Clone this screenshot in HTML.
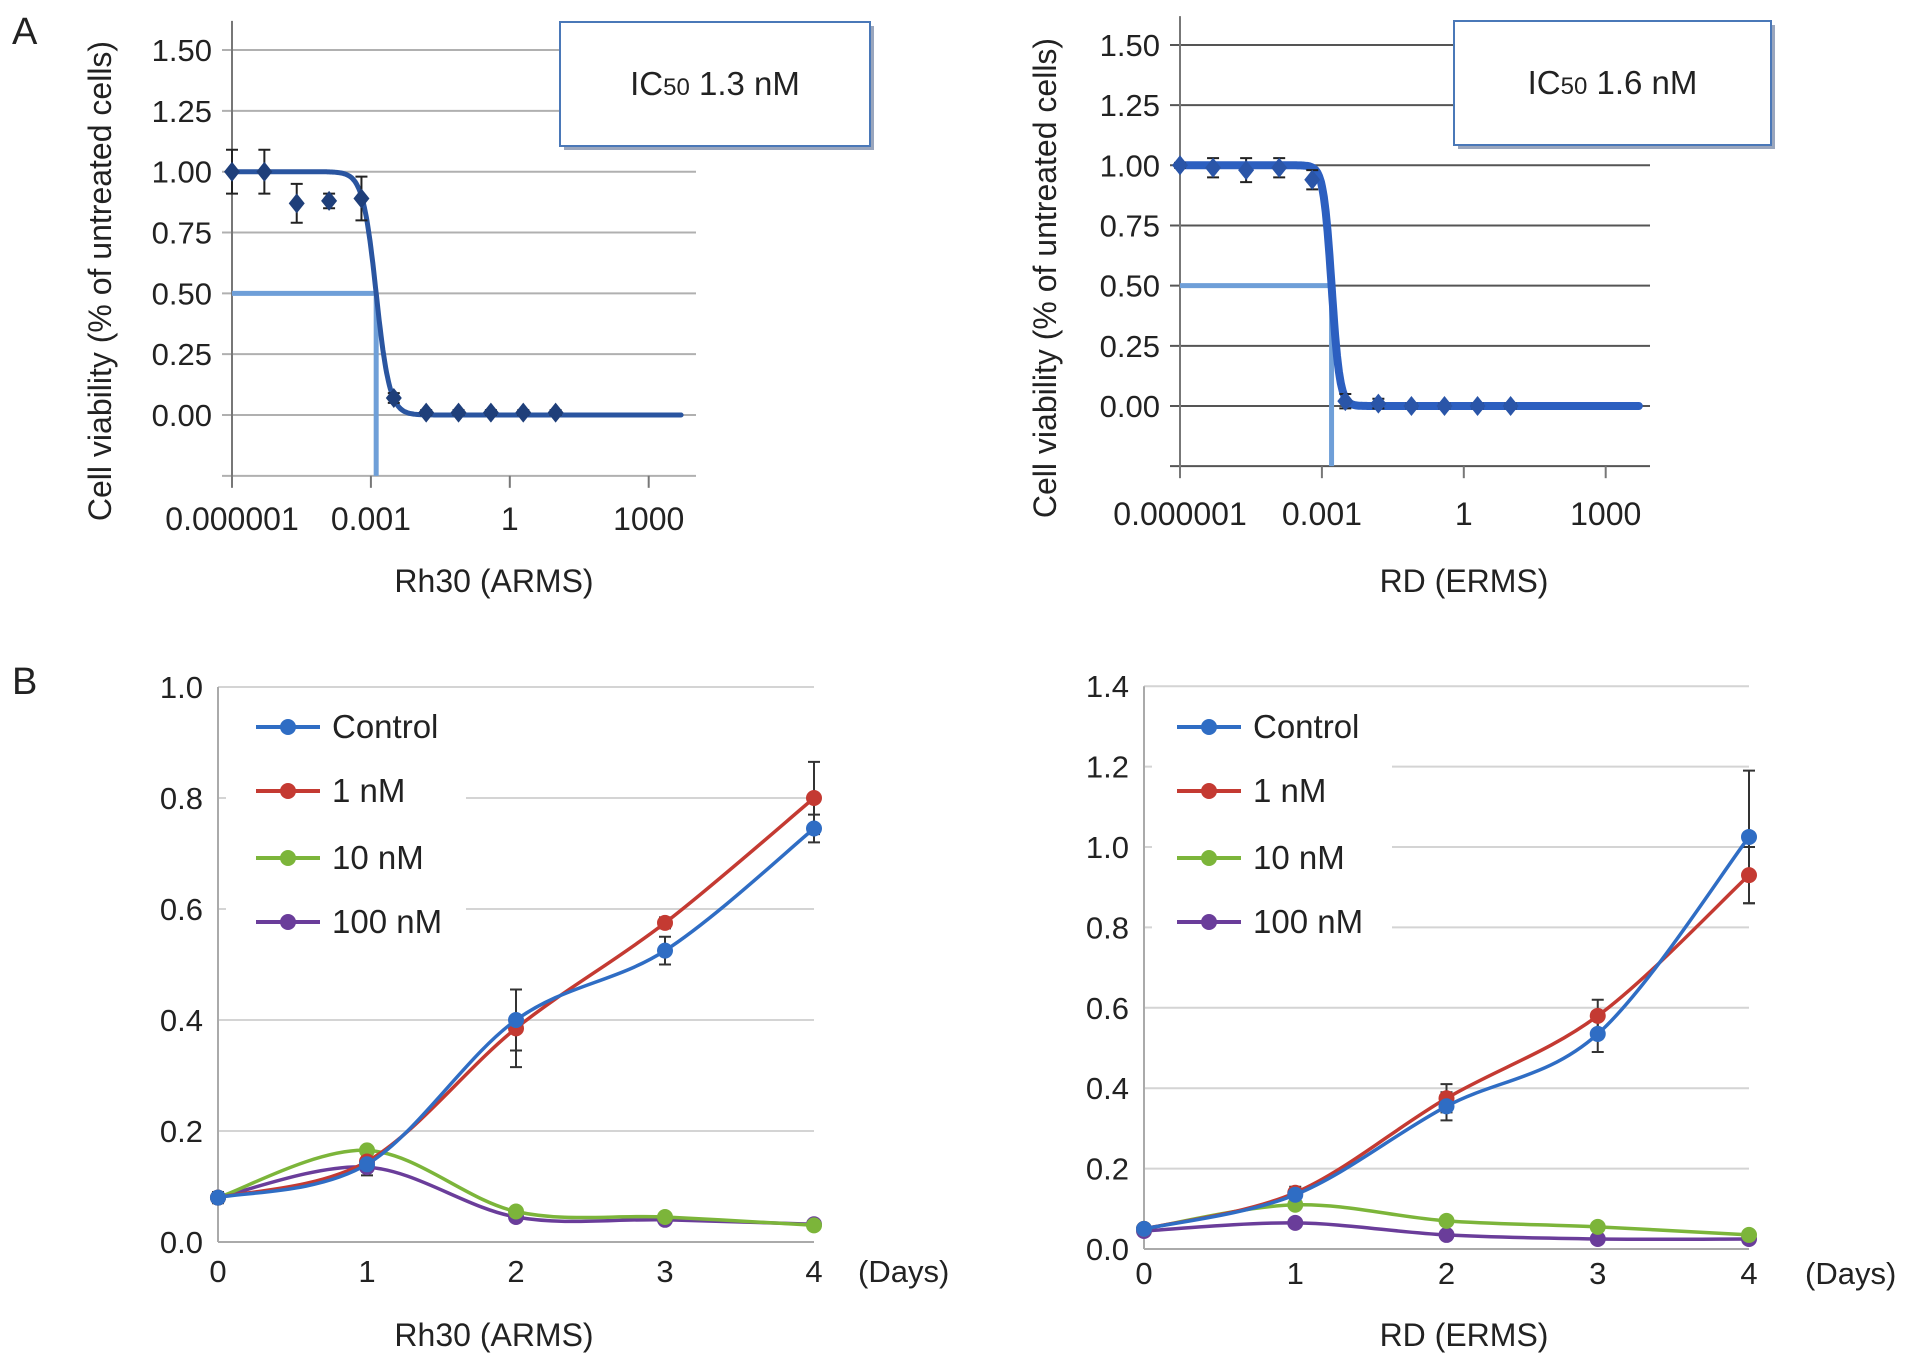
<!DOCTYPE html>
<html><head><meta charset="utf-8"><style>
html,body{margin:0;padding:0;background:#fff;}
svg{display:block;font-family:"Liberation Sans",Arial,sans-serif;}
</style></head><body>
<svg id="fig" width="1913" height="1365" viewBox="0 0 1913 1365">
<text x="12" y="44" font-size="38" fill="#222">A</text>
<text x="12" y="694" font-size="38" fill="#222">B</text>
</svg>
<script>
// ---- Panel A data (concentration in µM, factor 5 dilutions) ----
const aConcExp = [0,1,2,3,4,5,6,7,8,9,10];
const aTickLabels = ["0.000001","0.001","1","1000"];
const aYTicks = [0,0.25,0.5,0.75,1.0,1.25,1.5];
const aYTickLabels = ["0.00","0.25","0.50","0.75","1.00","1.25","1.50"];
const rh30Viab = [1.00,1.00,0.87,0.88,0.89,0.07,0.01,0.01,0.01,0.01,0.01];
const rh30Err = [0.09,0.09,0.08,0.03,0.09,0.02,0.01,0.01,0.01,0.01,0.01];
const rdViab = [1.00,0.99,0.98,0.99,0.94,0.02,0.01,0.00,0.00,0.00,0.00];
const rdErr = [0.01,0.04,0.05,0.04,0.04,0.03,0.02,0.01,0.01,0.01,0.01];
const rh30IC50 = 0.0013, rdIC50 = 0.0016;
// ---- Panel B data ----
const days = [0,1,2,3,4];
const seriesNames = ["Control","1 nM","10 nM","100 nM"];
const rh30Control = [0.08,0.14,0.40,0.525,0.745];
const rh30Control_err = [0.01,0.02,0.055,0.025,0.025];
const rh30_1nM = [0.08,0.145,0.385,0.575,0.80];
const rh30_1nM_err = [0.01,0.01,0.07,0.01,0.065];
const rh30_10nM = [0.08,0.165,0.055,0.045,0.03];
const rh30_100nM = [0.08,0.135,0.045,0.04,0.032];
const rdControl = [0.05,0.135,0.355,0.535,1.025];
const rdControl_err = [0.01,0.02,0.035,0.045,0.165];
const rd_1nM = [0.05,0.14,0.375,0.58,0.93];
const rd_1nM_err = [0.01,0.01,0.035,0.04,0.07];
const rd_10nM = [0.05,0.11,0.07,0.055,0.035];
const rd_100nM = [0.045,0.065,0.035,0.025,0.025];
const bYTicksL = [0,0.2,0.4,0.6,0.8,1.0];
const bYTicksR = [0,0.2,0.4,0.6,0.8,1.0,1.2,1.4];

const NS="http://www.w3.org/2000/svg";
const svg=document.getElementById('fig');
function mk(tag,attrs,parent){const e=document.createElementNS(NS,tag);for(const k in attrs)e.setAttribute(k,attrs[k]);(parent||svg).appendChild(e);return e;}
function txt(s,x,y,size,anchor,parent){const t=mk('text',{x:x,y:y,'font-size':size,'text-anchor':anchor||'start',fill:'#222'},parent);t.textContent=s;return t;}

function doseResponse(cfg){
  const g=mk('g',{});
  
  
  const xs=lg=>cfg.x0+(lg+6)*cfg.dec;
  const ys=v=>cfg.y0-v*cfg.yPer;
  const xR=cfg.xR;
  aYTicks.concat([-0.25]).forEach(v=>{
    const l=mk('line',{x1:cfg.x0-10,x2:xR,y1:ys(v),y2:ys(v),stroke:cfg.grid,'stroke-width':2},g);
    
    
  });
  aYTicks.forEach((v,i)=>{const t=txt(aYTickLabels[i],cfg.x0-20,ys(v)+11,31,'end',g);
    });
  const ax=mk('line',{x1:cfg.x0,x2:cfg.x0,y1:ys(1.62),y2:ys(-0.27),stroke:'#777','stroke-width':2},g);
  
  [-6,-3,0,3].forEach((lgv,i)=>{
    mk('line',{x1:xs(lgv),x2:xs(lgv),y1:ys(-0.25),y2:ys(-0.25)+12,stroke:'#777','stroke-width':2},g);
    const t=txt(aTickLabels[i],xs(lgv),cfg.tickY,32,'middle',g);
    
  });
  const lic=Math.log10(cfg.ic50);
  const h=mk('line',{x1:cfg.x0,x2:xs(lic),y1:ys(0.5),y2:ys(0.5),stroke:'#6f9fd8','stroke-width':5},g);
  
  const v=mk('line',{x1:xs(lic),x2:xs(lic),y1:ys(0.5),y2:ys(-0.25),stroke:'#6f9fd8','stroke-width':5},g);
  
  let d='';
  for(let lgv=-6;lgv<=cfg.endLog;lgv+=0.02){
    const c=Math.pow(10,lgv);const y=1/(1+Math.pow(c/cfg.ic50,cfg.hill));
    d+=(d?'L':'M')+xs(lgv).toFixed(1)+','+ys(y).toFixed(1);
  }
  const p=mk('path',{d:d,fill:'none',stroke:cfg.curve,'stroke-width':cfg.cw,'stroke-linecap':'round'},g);
  
  cfg.vals.forEach((val,i)=>{
    const lgv=-6+aConcExp[i]*Math.log10(5);
    const x=xs(lgv),y=ys(val),e=cfg.err[i]*cfg.yPer;
    const eb=mk('path',{d:`M${x},${y-e}V${y+e}M${x-6},${y-e}h12M${x-6},${y+e}h12`,stroke:'#222','stroke-width':2,fill:'none'},g);
    
    const m=mk('path',{d:`M${x},${y-10}L${x+8},${y}L${x},${y+10}L${x-8},${y}Z`,fill:cfg.marker},g);
    
  });
  mk('rect',{x:cfg.box[0]+4,y:cfg.box[1]+4,width:cfg.box[2],height:cfg.box[3],fill:'#9aa6bd'},g);
  const b=mk('rect',{x:cfg.box[0],y:cfg.box[1],width:cfg.box[2],height:cfg.box[3],fill:'#fff',stroke:'#4a78b8','stroke-width':2},g);
  
  const bt=mk('text',{x:cfg.box[0]+cfg.box[2]/2,y:cfg.box[1]+cfg.box[3]/2+11,'font-size':33,'text-anchor':'middle',fill:'#222'},g);
  bt.innerHTML='IC<tspan font-size="24">50</tspan> '+cfg.icText;
  
  const yt=txt('Cell viability (% of untreated cells)',0,0,32,'middle',g);
  yt.setAttribute('transform',`translate(${cfg.ytx},${cfg.yty}) rotate(-90)`);
  
  const xt=txt(cfg.xtitle,cfg.xtx,592,32,'middle',g);
  
}
doseResponse({name:'chart-rh30-dose',x0:232,y0:415,dec:46.3,yPer:243.3,xR:696,ic50:rh30IC50,hill:3,endLog:3.7,vals:rh30Viab,err:rh30Err,tickY:530,
  grid:'#b0b0b0',curve:'#2a55a0',cw:5,marker:'#1f3f7a',box:[560,22,310,124],icText:'1.3 nM',ytx:111,yty:281,xtitle:'Rh30 (ARMS)',xtx:494});
doseResponse({name:'chart-rd-dose',x0:1180,y0:406,dec:47.3,yPer:240.7,xR:1650,ic50:rdIC50,hill:5,endLog:3.7,vals:rdViab,err:rdErr,tickY:525,
  grid:'#555',curve:'#2c5fc0',cw:8,marker:'#2a55a8',box:[1454,21,317,124],icText:' 1.6 nM',ytx:1056,yty:278,xtitle:'RD (ERMS)',xtx:1464});

const colors=['#2f6dc4','#c43a32','#7cb53a','#6a3d9a'];
function smoothPath(pts){
  let d=`M${pts[0][0]},${pts[0][1]}`;
  for(let i=0;i<pts.length-1;i++){
    const p0=pts[Math.max(0,i-1)],p1=pts[i],p2=pts[i+1],p3=pts[Math.min(pts.length-1,i+2)];
    const c1=[p1[0]+(p2[0]-p0[0])/6,p1[1]+(p2[1]-p0[1])/6],c2=[p2[0]-(p3[0]-p1[0])/6,p2[1]-(p3[1]-p1[1])/6];
    d+=`C${c1[0].toFixed(1)},${c1[1].toFixed(1)} ${c2[0].toFixed(1)},${c2[1].toFixed(1)} ${p2[0].toFixed(1)},${p2[1].toFixed(1)}`;
  }
  return d;
}
function growth(cfg){
  const g=mk('g',{});
  
  
  const xs=dd=>cfg.x0+dd*cfg.dx;
  const ys=v=>cfg.y0-v*cfg.yPer;
  cfg.yt.forEach(v=>{
    if(v>0){const l=mk('line',{x1:cfg.x0,x2:xs(4),y1:ys(v),y2:ys(v),stroke:'#d4d4d4','stroke-width':2},g);
      }
    const t=txt(v.toFixed(1),cfg.x0-15,ys(v)+11,31,'end',g);
    
  });
  const lb=mk('rect',{x:cfg.x0+8,y:ys(cfg.yt[cfg.yt.length-1])+12,width:cfg.legW,height:255,fill:'#fff'},g);
  
  mk('line',{x1:cfg.x0,x2:cfg.x0,y1:ys(cfg.yt[cfg.yt.length-1]),y2:cfg.y0,stroke:'#aaa','stroke-width':2},g);
  mk('line',{x1:cfg.x0,x2:xs(4),y1:cfg.y0,y2:cfg.y0,stroke:'#aaa','stroke-width':2},g);
  days.forEach(dd=>{const t=txt(String(dd),xs(dd),cfg.tickY,31,'middle',g);
    });
  const dt=txt('(Days)',cfg.daysX,cfg.tickY,31,'start',g);
  
  const xt=txt(cfg.xtitle,cfg.xtx,1346,32,'middle',g);
  
  cfg.errs.forEach(([si,err])=>{
    cfg.series[si].forEach((v,i)=>{
      const x=xs(days[i]),y=ys(v),e=err[i]*cfg.yPer;
      const eb=mk('path',{d:`M${x},${y-e}V${y+e}M${x-6},${y-e}h12M${x-6},${y+e}h12`,stroke:'#333','stroke-width':2,fill:'none'},g);
      
    });
  });
  [3,2,1,0].forEach(si=>{
    const pts=cfg.series[si].map((v,i)=>[xs(days[i]),ys(v)]);
    const p=mk('path',{d:smoothPath(pts),fill:'none',stroke:colors[si],'stroke-width':3.5},g);
    
    
    pts.forEach(pt=>{const c=mk('circle',{cx:pt[0],cy:pt[1],r:8,fill:colors[si]},g);
      });
  });
  seriesNames.forEach((n,si)=>{
    const y=cfg.legY[si];
    const le=mk('g',{},g);
    
    mk('line',{x1:cfg.legX,x2:cfg.legX+64,y1:y,y2:y,stroke:colors[si],'stroke-width':4},le);
    mk('circle',{cx:cfg.legX+32,cy:y,r:8,fill:colors[si]},le);
    txt(n,cfg.legX+76,y+11,33,'start',le);
  });
}
growth({name:'chart-rh30-growth',x0:218,y0:1242,dx:149,yPer:555,yt:bYTicksL,legW:240,daysX:858,tickY:1282,xtitle:'Rh30 (ARMS)',xtx:494,
  series:[rh30Control,rh30_1nM,rh30_10nM,rh30_100nM],errs:[[0,rh30Control_err],[1,rh30_1nM_err]],legX:256,legY:[727,791,858,922]});
growth({name:'chart-rd-growth',x0:1144,y0:1249,dx:151.25,yPer:402,yt:bYTicksR,legW:240,daysX:1805,tickY:1284,xtitle:'RD (ERMS)',xtx:1464,
  series:[rdControl,rd_1nM,rd_10nM,rd_100nM],errs:[[0,rdControl_err],[1,rd_1nM_err]],legX:1177,legY:[727,791,858,922]});
</script>
</body></html>
